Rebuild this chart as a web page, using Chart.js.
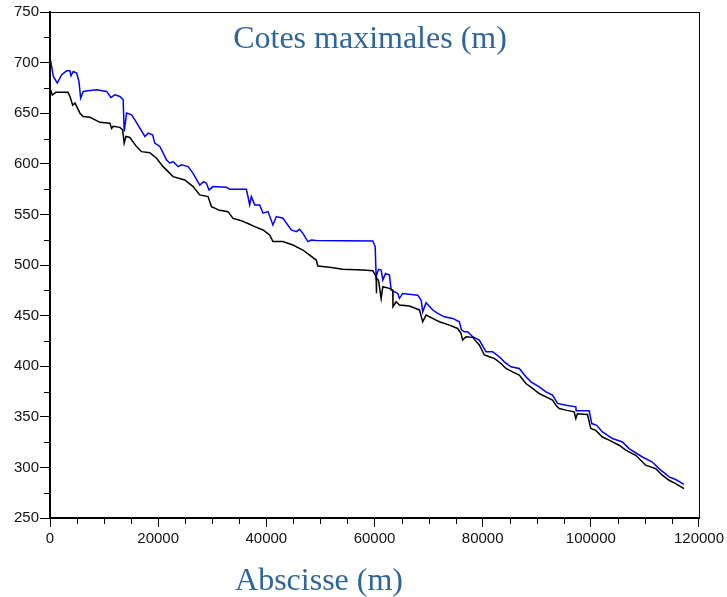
<!DOCTYPE html>
<html>
<head>
<meta charset="utf-8">
<script src="https://cdn.jsdelivr.net/npm/chart.js@4.4.1/dist/chart.umd.min.js"></script>
<style>
  html, body { margin: 0; padding: 0; background: #fff; }
  canvas { display: block; }
</style>
</head>
<body>
<canvas id="chart" width="727" height="597"></canvas>
<script>
// Profil en long : cotes maximales (m) le long de l'abscisse (m)

// courbe bleue
const blueX = [130, 610, 1350, 2160, 3080, 3690, 3880, 4300, 4930, 5350, 5670, 6150, 7380, 8620, 10470,
    11260, 12000, 12920, 13530, 13720, 14160, 15080, 15690, 16620, 17540, 18150, 18960, 19380, 20310,
    21540, 22150, 22760, 23690, 24310, 25530, 26460, 27690, 28430, 28920, 29410, 30150, 32620, 33230,
    36310, 36610, 36920, 37230, 37850, 38770, 39380, 40310, 41220, 41850, 43070, 44620, 45540, 46150,
    46760, 47690, 48310, 49230, 59690, 60130, 60310, 60740, 61230, 61540, 62030, 62770, 63080, 63690,
    64310, 64620, 65220, 67990, 68620, 68920, 69540, 70770, 71690, 72920, 74460, 75690, 76070, 76620,
    77230, 78150, 79380, 80620, 81840, 83080, 84000, 85230, 86770, 88000, 88930, 90460, 91700, 92920,
    93840, 95390, 97230, 97290, 99690, 100180, 101080, 102150, 104000, 105840, 107080, 109530, 111380,
    112610, 114460, 115690, 117230];
const blueY = [701.8, 686.3, 679.8, 688, 691.9, 692, 687, 691.2, 689.6, 681.4, 665, 671.5, 672.5, 673.1, 671.5,
    665.5, 668.2, 666.5, 663.2, 631.9, 650.1, 648.4, 643.4, 635.2, 627, 630.3, 628.6, 620.4, 617.1,
    603.9, 600.6, 602.2, 597.2, 599, 597.2, 590.5, 578.9, 582.4, 580.8, 574.2, 577.5, 576.8, 574.8,
    574.8, 567.6, 559.4, 567.6, 559.4, 559.4, 551.2, 552.8, 539.6, 547.9, 546.2, 534.6, 533, 535.3,
    531.3, 523.1, 524.7, 524.1, 523.8, 518.2, 488.4, 495.7, 495, 485.1, 491.6, 490, 475.2, 473.6,
    471.9, 467, 471.9, 470.2, 465.3, 453.7, 462.7, 455.5, 452.2, 448.8, 447.2, 443.9, 436, 434,
    434, 429.1, 425.8, 414.3, 414.3, 409.3, 404.3, 399.4, 397.8, 389.5, 384.6, 379.6, 374.7, 371.4,
    363.2, 361.5, 359.8, 356, 355.9, 343.3, 341.6, 335.1, 328.5, 325.1, 318.6, 310.3, 305.3,
    298.8, 290.6, 288, 283.3];

// courbe noire
const blackX = [130, 425, 1100, 3320, 3690, 4190, 4620, 5540, 6150, 7380, 8620, 9230, 11080, 11390, 11690,
    12920, 13420, 13720, 14030, 14770, 16000, 16930, 18460, 19700, 20920, 22760, 24920, 26460, 27690,
    29220, 29850, 31380, 32920, 33840, 35080, 36610, 37850, 39380, 40620, 41220, 43070, 44920, 46760,
    48000, 49230, 49530, 51690, 54150, 57840, 59690, 60310, 60350, 60400, 60740, 61230, 61540, 62770,
    63380, 63420, 64000, 64620, 66460, 68310, 68920, 69540, 71390, 72000, 73850, 75380, 76000, 76300,
    76920, 78150, 79380, 80310, 81230, 82150, 83390, 84310, 85530, 86770, 88000, 89230, 90460, 91700,
    92920, 93540, 94150, 95390, 96920, 97230, 97530, 99380, 100000, 100920, 102150, 103380, 105230,
    106460, 108310, 110150, 112000, 113220, 114460, 115690, 117230];
const blackY = [673, 668, 670.6, 670.6, 666.5, 658, 660, 650, 646.7, 646, 642.7, 641, 640, 635, 637,
    636, 633.6, 620.4, 627, 626, 617, 612, 611, 605.5, 597.2, 587.3, 584, 577.5, 569.3,
    567.6, 557.7, 554, 552.7, 546, 544.3, 541, 537.9, 534.6, 529.7, 523.1, 523.1, 519.8, 514.8,
    509.8, 504.9, 498.9, 497.7, 495.7, 495, 494.4, 488.4, 472, 487, 485, 467, 478.5, 476.9,
    475.2, 458.8, 463.7, 460.5, 459.4, 455.6, 443.9, 450.5, 445.6, 443.9, 440.6, 437.3, 432.5, 425.8,
    429.1, 428.5, 421, 411.1, 409.4, 407.7, 402.7, 397.8, 394.4, 391.2, 382.9, 378, 373, 369.7,
    366.4, 361.5, 358.2, 356.6, 354.9, 348.3, 353, 352.2, 338.4, 336.6, 330, 326.9, 321.9,
    317, 312, 302.2, 298.8, 292.3, 287.3, 284, 279];

const chartTitle = 'Cotes maximales (m)';
const xTitle = 'Abscisse (m)';

const toPoints = (xs, ys) => xs.map((x, i) => ({ x: x, y: ys[i] }));

// petits traits (graduations secondaires), cadre et titres
const decorPlugin = {
    id: 'decor',
    afterDraw(chart) {
        const { ctx, chartArea: { left, right, top, bottom } } = chart;
        const xs = chart.scales.x, ys = chart.scales.y;
        ctx.save();
        ctx.strokeStyle = '#000';
        ctx.lineWidth = 1;
        ctx.beginPath();
        ys.ticks.forEach(t => {
            if (t.value % 50 !== 0) {
                const p = Math.round(ys.getPixelForValue(t.value)) + 0.5;
                ctx.moveTo(left - 6, p); ctx.lineTo(left, p);
            }
        });
        xs.ticks.forEach(t => {
            if (t.value % 20000 !== 0) {
                const p = Math.round(xs.getPixelForValue(t.value)) + 0.5;
                ctx.moveTo(p, bottom); ctx.lineTo(p, bottom + 6);
            }
        });
        ctx.stroke();
        ctx.strokeRect(left + 0.5, top + 0.5, right - left, bottom - top);

        ctx.fillStyle = '#2f6699';
        ctx.font = '32px "Liberation Serif", "Times New Roman", serif';
        ctx.textAlign = 'center';
        ctx.textBaseline = 'alphabetic';
        ctx.fillText(chartTitle, 370, 48);
        ctx.fillText(xTitle, 319, 590);
        ctx.restore();
    }
};

const tickFont = { family: '"Liberation Sans", Arial, sans-serif', size: 15 };

new Chart(document.getElementById('chart'), {
    type: 'scatter',
    data: {
        datasets: [
            { label: 'noir', data: toPoints(blackX, blackY), showLine: true, borderColor: '#000000',
              borderWidth: 1.5, pointRadius: 0, tension: 0 },
            { label: 'bleu', data: toPoints(blueX, blueY), showLine: true, borderColor: '#0000ff',
              borderWidth: 1.5, pointRadius: 0, tension: 0 },
        ]
    },
    options: {
        responsive: false,
        animation: false,
        layout: { padding: { top: 12, right: 27, left: 0, bottom: 0 } },
        plugins: { legend: { display: false }, tooltip: { enabled: false } },
        scales: {
            x: {
                type: 'linear', min: 0, max: 120000,
                afterFit: s => { s.height = 79; },
                border: { display: true, color: '#000', width: 2 },
                grid: {
                    drawOnChartArea: false, drawTicks: true, tickLength: 9,
                    tickColor: c => (c.tick && c.tick.value % 20000 === 0) ? '#000' : 'rgba(0,0,0,0)'
                },
                ticks: {
                    stepSize: 5000, autoSkip: false, maxRotation: 0, padding: 3,
                    color: '#111', font: tickFont,
                    callback: v => v % 20000 === 0 ? String(v) : ''
                }
            },
            y: {
                type: 'linear', min: 250, max: 750,
                afterFit: s => { s.width = 50; },
                border: { display: true, color: '#000', width: 2 },
                grid: {
                    drawOnChartArea: false, drawTicks: true, tickLength: 10,
                    tickColor: c => (c.tick && c.tick.value % 50 === 0) ? '#000' : 'rgba(0,0,0,0)'
                },
                ticks: {
                    stepSize: 25, autoSkip: false, padding: 1,
                    color: '#111', font: tickFont,
                    callback: v => v % 50 === 0 ? String(v) : ''
                }
            }
        }
    },
    plugins: [decorPlugin]
});
</script>
</body>
</html>
